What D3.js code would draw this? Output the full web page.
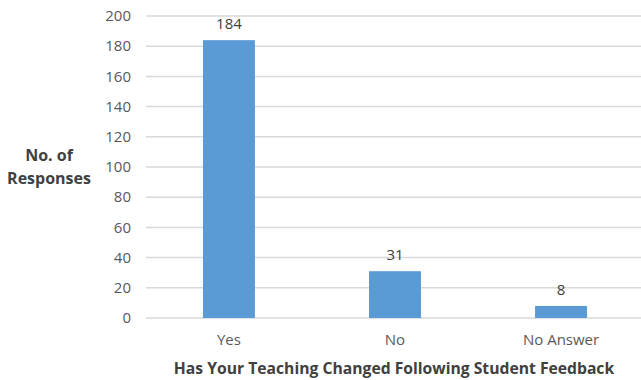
<!DOCTYPE html>
<html>
<head>
<meta charset="utf-8">
<script src="https://cdn.jsdelivr.net/npm/d3@7"></script>
<style>
  body { margin: 0; background: #fff; }
  svg { display: block; font-family: 'Open Sans', sans-serif; }
</style>
</head>
<body>
<svg width="641" height="380"></svg>
<script>
const categories = ['Yes', 'No', 'No Answer'];
const responses = [184, 31, 8];
const yTicks = [0, 20, 40, 60, 80, 100, 120, 140, 160, 180, 200];

const svg = d3.select('svg');
const margin = {top: 16, right: -3, bottom: 62, left: 146};
const width = 641 - margin.left - margin.right;
const height = 380 - margin.top - margin.bottom;

const x = d3.scaleBand()
  .domain(categories)
  .range([margin.left, margin.left + width])
  .paddingInner(0.687)
  .paddingOuter(0.343);

const y = d3.scaleLinear()
  .domain([0, 200])
  .range([margin.top + height, margin.top]);

// gridlines
svg.append('g')
  .selectAll('line')
  .data(yTicks)
  .enter()
  .append('line')
  .attr('x1', margin.left)
  .attr('x2', 641)
  .attr('y1', (d) => y(d))
  .attr('y2', (d) => y(d))
  .style('stroke', '#d9d9d9')
  .style('stroke-width', 1.5);

// y tick labels
svg.append('g')
  .selectAll('text')
  .data(yTicks)
  .enter()
  .append('text')
  .attr('x', 131)
  .attr('y', (d) => y(d))
  .attr('dy', '0.35em')
  .attr('text-anchor', 'end')
  .attr('font-size', 15)
  .style('fill', '#595959')
  .text((d) => d);

// bars
svg.append('g')
  .selectAll('rect')
  .data(categories)
  .enter()
  .append('rect')
  .attr('x', (d) => x(d))
  .attr('width', x.bandwidth())
  .attr('y', (d, i) => y(responses[i]))
  .attr('height', (d, i) => y(0) - y(responses[i]))
  .style('fill', '#5b9bd5');

// value labels
svg.append('g')
  .selectAll('text')
  .data(categories)
  .enter()
  .append('text')
  .attr('x', (d) => x(d) + x.bandwidth() / 2)
  .attr('y', (d, i) => y(responses[i]) - 11)
  .attr('text-anchor', 'middle')
  .attr('font-size', 15)
  .style('fill', '#404040')
  .text((d, i) => responses[i]);

// x category labels
svg.append('g')
  .selectAll('text')
  .data(categories)
  .enter()
  .append('text')
  .attr('x', (d) => x(d) + x.bandwidth() / 2)
  .attr('y', 340)
  .attr('dy', '0.35em')
  .attr('text-anchor', 'middle')
  .attr('font-size', 15)
  .style('fill', '#595959')
  .text((d) => d);

// axis titles
svg.append('text')
  .attr('x', 394)
  .attr('y', 369)
  .attr('dy', '0.35em')
  .attr('text-anchor', 'middle')
  .attr('font-size', 15.7)
  .attr('font-weight', 'bold')
  .style('fill', '#404040')
  .text('Has Your Teaching Changed Following Student Feedback');

const yTitle = svg.append('text')
  .attr('text-anchor', 'middle')
  .attr('font-size', 16)
  .attr('font-weight', 'bold')
  .style('fill', '#404040');
yTitle.append('tspan').attr('x', 49).attr('y', 155).attr('dy', '0.35em').text('No. of');
yTitle.append('tspan').attr('x', 49).attr('y', 178).attr('dy', '0.35em').text('Responses');
</script>
</body>
</html>
